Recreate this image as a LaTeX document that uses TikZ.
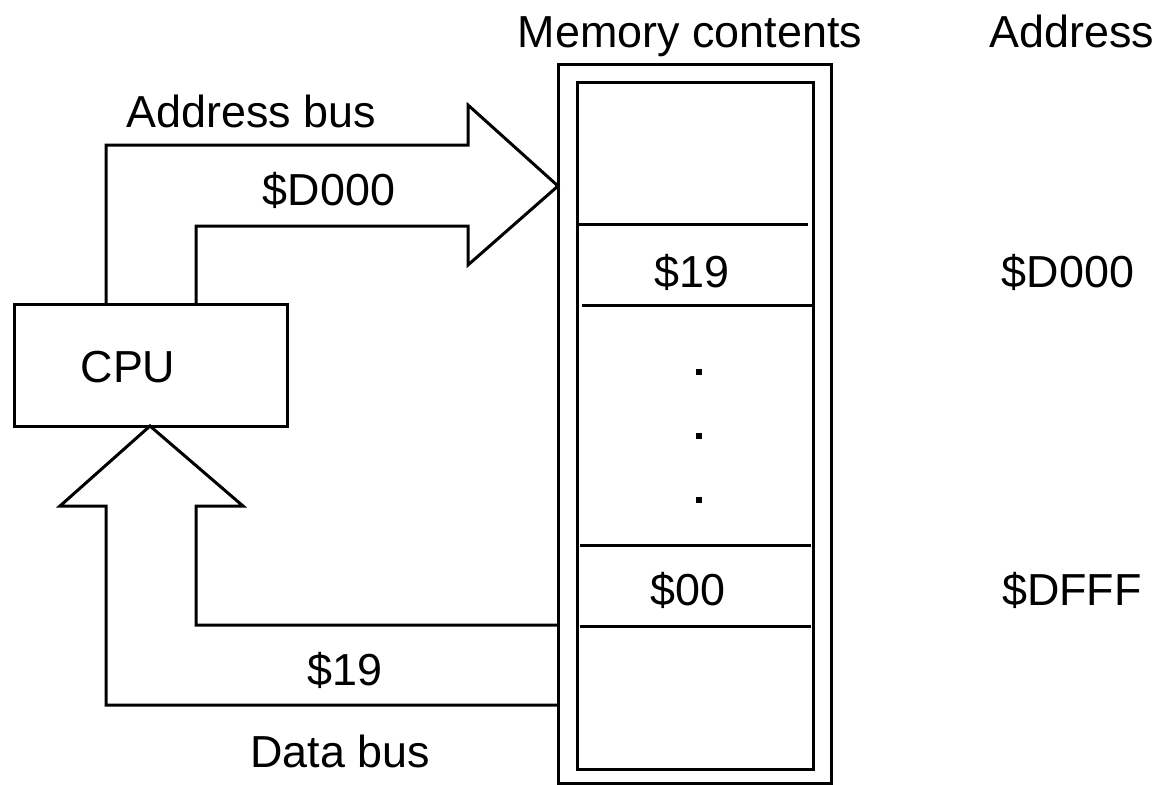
\documentclass[tikz,border=0pt]{standalone}
\usepackage{fontspec}
\setmainfont{Liberation Sans}
\usepackage{tikz}
\usetikzlibrary{calc}
\newdimen\px
\px=0.03cm

\begin{document}
\begin{tikzpicture}[
  x=0.03cm, y=-0.03cm,
  line width=0.09cm,
  box/.style={draw, rectangle, outer sep=0pt, inner sep=0pt},
  lbl/.style={font=\fontsize{38.3}{46}\selectfont, inner sep=0pt, anchor=base},
  bus/.style={draw, line join=miter}
]
\useasboundingbox (0,0) rectangle (1163,785);
% CPU and memory
\node[box, minimum width=273\px, minimum height=122\px] (cpu) at (150.5,365) {};
\node[lbl] (cputext) at (128,382) {CPU};
\node[box, minimum width=273\px, minimum height=719\px] (mem) at (694.5,423.5) {};
\node[box, minimum width=236\px, minimum height=687\px] (cells) at (695,425.5) {};
\foreach \y/\xa/\xb in {224/577/808, 305/582/813, 545/580/811, 626/580/811}
  \draw (\xa,\y) -- (\xb,\y);
\foreach \y [count=\i] in {372,436,500}
  \node[fill, inner sep=0pt, minimum size=6\px] (dot\i) at (699,\y) {};
% labels
\node[lbl] (memtitle) at (690,47) {Memory contents};
\node[lbl] (addrtitle) at (1072,47) {Address};
\node[lbl] (abuslbl) at (251,127) {Address bus};
\node[lbl] (aval) at (329,205) {\$D000};
\node[lbl] (cellhi) at (692,287) {\$19};
\node[lbl] (addrhi) at (1068,287) {\$D000};
\node[lbl] (celllo) at (688,605) {\$00};
\node[lbl] (addrlo) at (1072,605) {\$DFFF};
\node[lbl] (dval) at (345,685) {\$19};
\node[lbl] (dbuslbl) at (340,767) {Data bus};
% address bus
\draw[bus] ([xshift=92\px]cpu.north west) |- (468,145) -- (468,105)
  -- (mem.west |- 0,186) -- (468,265) -- (468,226) -| ([xshift=182\px]cpu.north west);
% data bus
\draw[bus] (mem.west |- 0,705) -- (106,705) -- (106,506) -- (60,506)
  -- ([xshift=136\px]cpu.south west) -- (243,506) -- (196,506) |- (mem.west |- 0,625);
\end{tikzpicture}
\end{document}
